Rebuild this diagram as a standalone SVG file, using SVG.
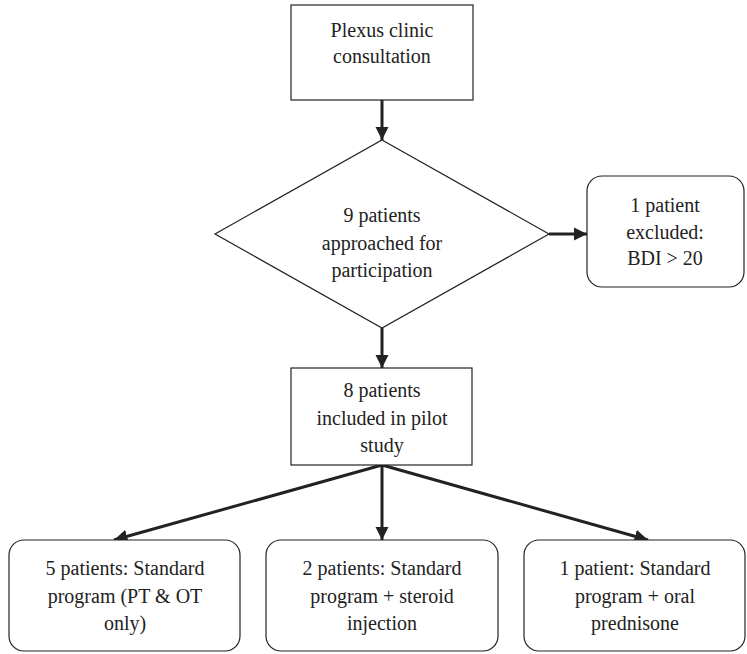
<svg xmlns="http://www.w3.org/2000/svg" width="747" height="654" viewBox="0 0 747 654">
<style>
.box{fill:#fff;stroke:#222;stroke-width:1.2}
.t{font-family:'Liberation Serif',Tinos,'Noto Serif','DejaVu Serif',Times,'Times New Roman',serif;font-size:20px;fill:#222;text-anchor:middle}
.c{stroke:#222;stroke-width:3;fill:none;marker-end:url(#ah)}
</style>
<defs>
<marker id="ah" viewBox="0 0 10 10" refX="10" refY="5" markerWidth="4.5" markerHeight="4.5" orient="auto" markerUnits="strokeWidth">
<path d="M0,0 L10,5 L0,10 z" fill="#222"/>
</marker>
</defs>
<rect width="747" height="654" fill="#fff"/>
<g id="connectors">
<line class="c" x1="382" y1="100" x2="382" y2="140"/>
<line class="c" x1="549" y1="234" x2="587" y2="234"/>
<line class="c" x1="382" y1="328" x2="382" y2="368"/>
<line class="c" x1="382" y1="465" x2="114" y2="540"/>
<line class="c" x1="382" y1="465" x2="382" y2="540"/>
<line class="c" x1="382" y1="465" x2="648" y2="540"/>
</g>
<g id="consult">
<rect class="box" x="291" y="5" width="182" height="95"/>
<text class="t" x="382" y="37">Plexus clinic</text>
<text class="t" x="382" y="63">consultation</text>
</g>
<g id="approached">
<polygon class="box" points="382,140 549,234 382,328 215,234"/>
<text class="t" x="382" y="222">9 patients</text>
<text class="t" x="382" y="250">approached for</text>
<text class="t" x="382" y="277">participation</text>
</g>
<g id="excluded">
<rect class="box" x="587" y="176" width="157" height="111" rx="15"/>
<text class="t" x="665" y="212">1 patient</text>
<text class="t" x="665" y="239">excluded:</text>
<text class="t" x="665" y="265">BDI &gt; 20</text>
</g>
<g id="included">
<rect class="box" x="291" y="368" width="181" height="97"/>
<text class="t" x="382" y="397">8 patients</text>
<text class="t" x="382" y="425">included in pilot</text>
<text class="t" x="382" y="452">study</text>
</g>
<g id="standard">
<rect class="box" x="9" y="540" width="231" height="111" rx="15"/>
<text class="t" x="125" y="575">5 patients: Standard</text>
<text class="t" x="125" y="603">program (PT &amp; OT</text>
<text class="t" x="125" y="630">only)</text>
</g>
<g id="steroid">
<rect class="box" x="266" y="540" width="232" height="111" rx="15"/>
<text class="t" x="382" y="575">2 patients: Standard</text>
<text class="t" x="382" y="603">program + steroid</text>
<text class="t" x="382" y="630">injection</text>
</g>
<g id="prednisone">
<rect class="box" x="524" y="540" width="221" height="111" rx="15"/>
<text class="t" x="635" y="575">1 patient: Standard</text>
<text class="t" x="635" y="603">program + oral</text>
<text class="t" x="635" y="630">prednisone</text>
</g>
</svg>
